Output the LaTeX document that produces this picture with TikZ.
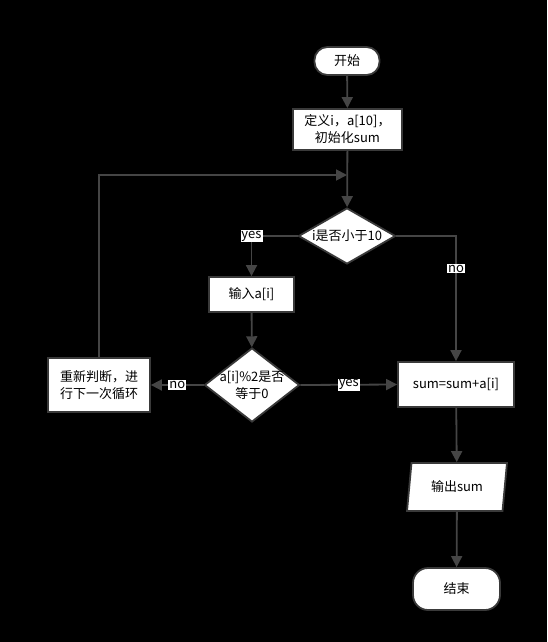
\documentclass[tikz,border=0pt]{standalone}
\usepackage{fontspec}
\setmainfont{Noto Sans CJK SC}
\usetikzlibrary{arrows.meta,shapes.geometric}
\definecolor{linegray}{HTML}{454545}
\definecolor{edgegray}{HTML}{3A3A3A}

\begin{document}
\begin{tikzpicture}[x=1pt,y=-1pt,font=\fontsize{13}{17}\selectfont,
  box/.style={draw=edgegray,line width=1.8pt,fill=white,inner sep=0pt,align=center},
  term/.style={box,rounded corners=13pt},
  cond/.style={box,diamond},
  io/.style={box,trapezium,trapezium left angle=78,trapezium right angle=102,trapezium stretches=true},
  flow/.style={draw=linegray,line width=1.8pt,-{Triangle[length=11pt,width=11pt]}},
  tag/.style={fill=white,inner sep=1pt,font=\fontsize{13}{15}\selectfont}]
\fill[black] (0,0) rectangle (547,642);
\node[term,minimum width=65,minimum height=28] (start) at (347,61) {开始};
\node[box,minimum width=109,minimum height=41] (init) at (347.5,129.5) {定义i，a[10]，\\初始化sum};
\node[cond,shape aspect=1.73,inner sep=-3pt,minimum width=97,minimum height=56] (chk1) at (347,236) {i是否小于10};
\node[box,minimum width=85,minimum height=35] (input) at (251.5,294.5) {输入a[i]};
\node[cond,shape aspect=1.28,inner sep=-7pt,minimum width=95,minimum height=74] (chk2) at (252,385) {a[i]\%2是否\\等于0};
\node[box,minimum width=102,minimum height=54] (again) at (99,385) {重新判断，进\\行下一次循环};
\node[box,minimum width=116,minimum height=45] (add) at (456,384.5) {sum=sum+a[i]};
\node[io,minimum width=100,minimum height=48] (out) at (457,487) {输出sum};
\node[term,minimum width=87,minimum height=42,rounded corners=15pt] (stop) at (456.5,589) {结束};
\coordinate (back) at (347,175);
% connectors
\draw[flow] (start) -- (init);
\draw[flow] (init) -- (chk1);
\draw[flow] (chk1.west) -| node[tag,pos=.5] {yes} (input.north);
\draw[flow] (input) -- (chk2);
\draw[flow] (chk2.west) -- node[tag] {no} (again.east);
\draw[flow] (chk2.east) -- node[tag] {yes} (add.west);
\draw[flow] (chk1.east) -| node[tag,pos=.63] {no} (add.north);
\draw[flow] (again.north) |- (back);
\draw[flow] (add) -- (out);
\draw[flow] (out) -- (stop);
\end{tikzpicture}
\end{document}
